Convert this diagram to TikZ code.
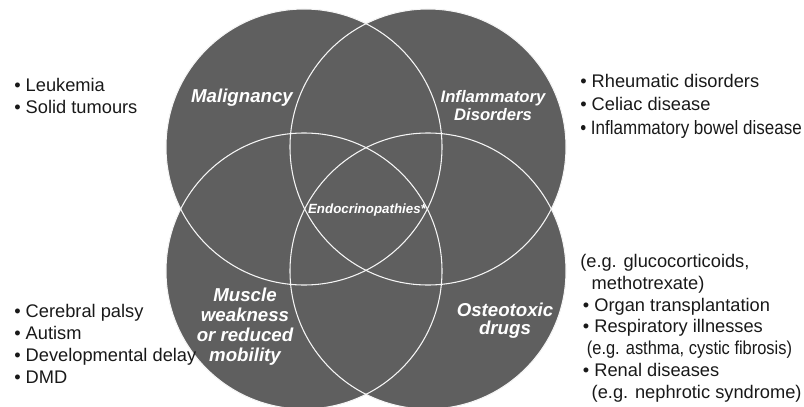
\documentclass[tikz,border=0pt]{standalone}
\usepackage{fontspec}
\setmainfont{Liberation Sans}
\newfontfamily\narrowfont[FakeStretch=0.88]{Liberation Sans}
\usetikzlibrary{positioning}
\definecolor{venngray}{RGB}{95,95,95}
\definecolor{listink}{RGB}{25,25,25}

\begin{document}
\begin{tikzpicture}[
  x=0.75pt,y=-0.75pt,
  ring/.style={draw=white!92!gray,line width=0.8pt},
  zone/.style={text=white,align=center,inner sep=0pt,
    font=\fontsize{14}{15}\selectfont\bfseries\itshape},
  list/.style={text=listink,align=left,inner sep=0pt,anchor=base west,
    font=\fontsize{13.7}{16.3}\selectfont},
]
  \useasboundingbox (0,0) rectangle (804,407);

  % the four sets
  \foreach \cx/\cy in {304/147,428/147,304/271,428/271}
    \fill[venngray] (\cx,\cy) circle[radius=138];
  \foreach \cx/\cy in {304/147,428/147,304/271,428/271}
    \draw[ring] (\cx,\cy) circle[radius=138];

  \node[zone] (malig) at (242,98) {Malignancy};
  \node[zone,font=\fontsize{12.5}{13.5}\selectfont\bfseries\itshape] (inflam) at (493,106) {Inflammatory\\Disorders};
  \node[zone,font=\fontsize{10}{11}\selectfont\bfseries\itshape] (endo) at (367,210) {Endocrinopathies*};
  \node[zone] (muscle) at (245,327) {Muscle\\weakness\\or reduced\\mobility};
  \node[zone,font=\fontsize{14}{13.5}\selectfont\bfseries\itshape] (osteo) at (505,321) {Osteotoxic\\drugs};

  % examples beside each set (anchored on the last line)
  \node[list] (maliglist) at (14,113) {• Leukemia\\• Solid tumours};
  \node[list] (inflamlist) at (580,134) {• Rheumatic disorders\\[1pt]• Celiac disease\\[1pt]
    {\narrowfont\fontsize{14.5}{16.3}\selectfont • Inflammatory bowel disease}};
  \node[list] (musclelist) at (14,383) {• Cerebral palsy\\• Autism\\• Developmental delay\\• DMD};
  \node[list] (osteolist) at (580,398) {(e.g. glucocorticoids,\\
    \phantom{• }methotrexate)\\
    \hspace*{2pt}• Organ transplantation\\
    \hspace*{2pt}• Respiratory illnesses\\
    \hspace*{5pt}{\narrowfont\fontsize{14}{16.3}\selectfont (e.g. asthma, cystic fibrosis)}\\
    \hspace*{2pt}• Renal diseases\\
    \phantom{• }(e.g. nephrotic syndrome)};
\end{tikzpicture}
\end{document}
